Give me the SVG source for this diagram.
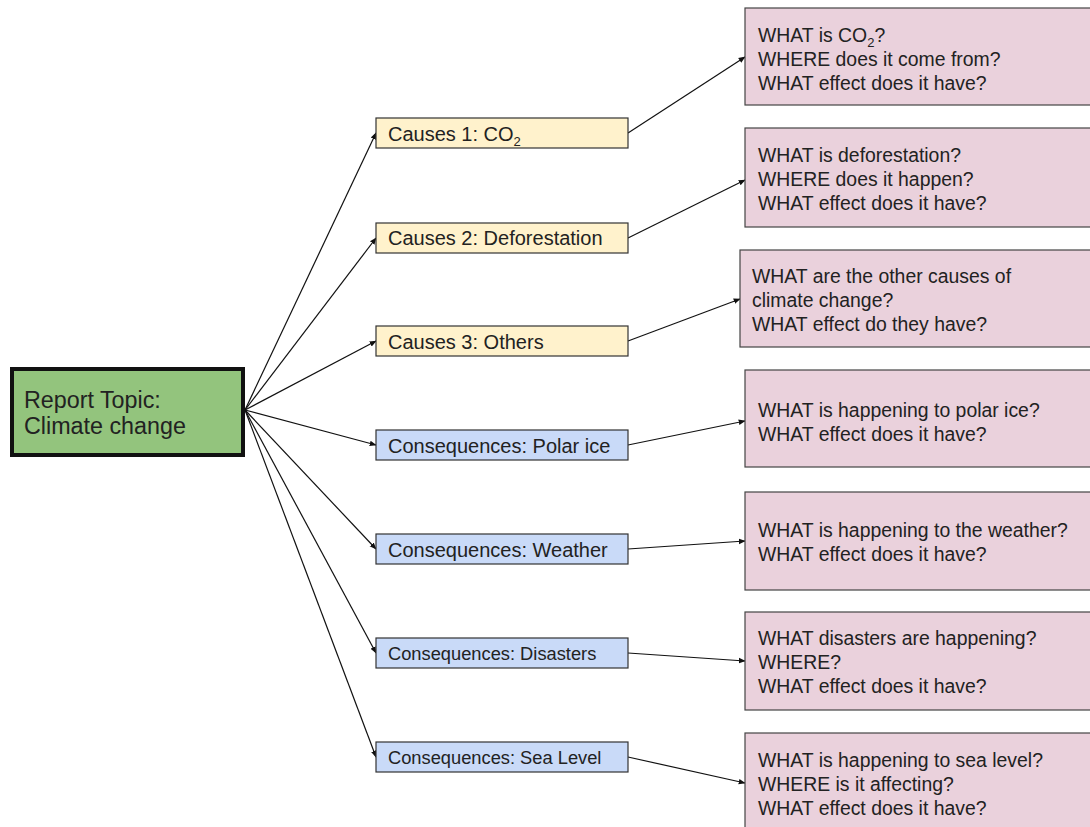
<svg xmlns="http://www.w3.org/2000/svg" width="1090" height="827" viewBox="0 0 1090 827">
  <style>
    text { font-family: "Liberation Sans", Arial, sans-serif; fill: #222; }
    .topic rect { fill: #93c47d; stroke: #111; stroke-width: 4; }
    .topic text { font-size: 23.3px; }
    .cause rect { fill: #fff2cc; stroke: #333; stroke-width: 1.2; }
    .cons rect { fill: #c9daf8; stroke: #333; stroke-width: 1.2; }
    .mid text { font-size: 20px; }
    .mid text.small { font-size: 18.3px; }
    .q rect { fill: #ead1dc; stroke: #444; stroke-width: 1.2; }
    .q text { font-size: 19.4px; }
    .sub { font-size: 13px; }
    .links line { stroke: #111; stroke-width: 1.2; marker-end: url(#arrow); }
  </style>
  <defs>
    <marker id="arrow" viewBox="0 0 10 10" refX="9" refY="5" markerWidth="7" markerHeight="7" orient="auto" markerUnits="userSpaceOnUse">
      <path d="M0,1 L10,5 L0,9 z" fill="#111"/>
    </marker>
  </defs>
  <rect width="1090" height="827" fill="#fff"/>

  <g class="links">
    <line x1="245" y1="410" x2="376" y2="133"/>
    <line x1="245" y1="410" x2="376" y2="238"/>
    <line x1="245" y1="410" x2="376" y2="341"/>
    <line x1="245" y1="410" x2="376" y2="445"/>
    <line x1="245" y1="410" x2="376" y2="549"/>
    <line x1="245" y1="410" x2="376" y2="653"/>
    <line x1="245" y1="410" x2="376" y2="757"/>
    <line x1="628" y1="133" x2="745" y2="57"/>
    <line x1="628" y1="238" x2="745" y2="180"/>
    <line x1="628" y1="341" x2="740" y2="299"/>
    <line x1="628" y1="445" x2="745" y2="421"/>
    <line x1="628" y1="549" x2="745" y2="541"/>
    <line x1="628" y1="653" x2="745" y2="661"/>
    <line x1="628" y1="757" x2="745" y2="783"/>
  </g>

  <g id="topic" class="topic">
    <rect x="12" y="369" width="231" height="86"/>
    <text x="24" y="408">Report Topic:</text>
    <text x="24" y="434">Climate change</text>
  </g>

  <g id="cause1" class="mid cause">
    <rect x="376" y="118" width="252" height="30"/>
    <text x="388" y="141">Causes 1: CO<tspan class="sub" dy="5">2</tspan></text>
  </g>
  <g id="cause2" class="mid cause">
    <rect x="376" y="223" width="252" height="30"/>
    <text x="388" y="245">Causes 2: Deforestation</text>
  </g>
  <g id="cause3" class="mid cause">
    <rect x="376" y="326" width="252" height="30"/>
    <text x="388" y="349">Causes 3: Others</text>
  </g>
  <g id="polar" class="mid cons">
    <rect x="376" y="430" width="252" height="30"/>
    <text x="388" y="453">Consequences: Polar ice</text>
  </g>
  <g id="weather" class="mid cons">
    <rect x="376" y="534" width="252" height="30"/>
    <text x="388" y="557">Consequences: Weather</text>
  </g>
  <g id="disasters" class="mid cons">
    <rect x="376" y="638" width="252" height="30"/>
    <text class="small" x="388" y="660">Consequences: Disasters</text>
  </g>
  <g id="sealevel" class="mid cons">
    <rect x="376" y="742" width="252" height="30"/>
    <text class="small" x="388" y="764">Consequences: Sea Level</text>
  </g>

  <g id="q1" class="q">
    <rect x="745" y="8" width="350" height="97"/>
    <text x="758" y="42">WHAT is CO<tspan class="sub" dy="5">2</tspan><tspan dy="-5">?</tspan></text>
    <text x="758" y="66">WHERE does it come from?</text>
    <text x="758" y="90">WHAT effect does it have?</text>
  </g>
  <g id="q2" class="q">
    <rect x="745" y="128" width="350" height="99"/>
    <text x="758" y="162">WHAT is deforestation?</text>
    <text x="758" y="186">WHERE does it happen?</text>
    <text x="758" y="210">WHAT effect does it have?</text>
  </g>
  <g id="q3" class="q">
    <rect x="740" y="250" width="355" height="97"/>
    <text x="752" y="283">WHAT are the other causes of</text>
    <text x="752" y="307">climate change?</text>
    <text x="752" y="331">WHAT effect do they have?</text>
  </g>
  <g id="q4" class="q">
    <rect x="745" y="370" width="350" height="97"/>
    <text x="758" y="417">WHAT is happening to polar ice?</text>
    <text x="758" y="441">WHAT effect does it have?</text>
  </g>
  <g id="q5" class="q">
    <rect x="745" y="492" width="350" height="98"/>
    <text x="758" y="537">WHAT is happening to the weather?</text>
    <text x="758" y="561">WHAT effect does it have?</text>
  </g>
  <g id="q6" class="q">
    <rect x="745" y="612" width="350" height="98"/>
    <text x="758" y="645">WHAT disasters are happening?</text>
    <text x="758" y="669">WHERE?</text>
    <text x="758" y="693">WHAT effect does it have?</text>
  </g>
  <g id="q7" class="q">
    <rect x="745" y="733" width="350" height="100"/>
    <text x="758" y="767">WHAT is happening to sea level?</text>
    <text x="758" y="791">WHERE is it affecting?</text>
    <text x="758" y="815">WHAT effect does it have?</text>
  </g>
</svg>
